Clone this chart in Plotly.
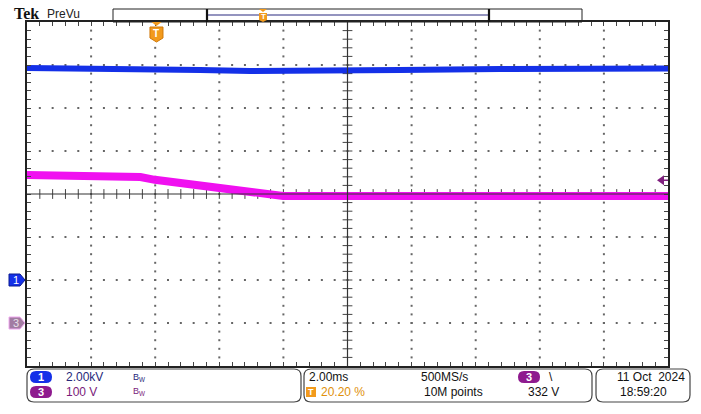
import numpy as np
import plotly.graph_objects as go

OFF = 8  # page body margin of the browser
W, H = 701 - 2 * OFF, 414 - 2 * OFF
L, R, T, B = 27, 668, 22, 366  # graticule box in window pixels

# scope settings
ch1_scale = 2.0      # kV/div
ch1_pos = -2.0       # div
ch3_scale = 100.0    # V/div
ch3_pos = -3.0       # div
time_per_div = 2.0   # ms/div
trig_frac = 0.202
trig_level = 332.0   # V

t_left = -trig_frac * 10 * time_per_div
t_right = t_left + 10 * time_per_div
t_center = t_left + 5 * time_per_div

# ch1 (blue), values
ch1_t = [-4.04, -0.2, 1.36, 2.92, 4.48, 7.6, 10.7, 15.96]
ch1_kv = [9.86, 9.84, 9.77, 9.72, 9.72, 9.77, 9.81, 9.84]

# ch3 (magenta)
ch3_t = [-4.04, -1.05, -0.5, -0.05, 1.98, 2.92, 3.54, 3.95, 15.96]
ch3_v = [344, 344, 339.5, 333, 312, 304.7, 297.7, 295.3, 295.3]

top_row = ["2.00kV", "2.00ms", "500MS/s", "11 Oct  2024"]
bot_row = ["100 V", "20.20 %", "10M points", "332 V", "18:59:20"]


def px(x):
    return (x - L) / (R - L)


def py(y):
    return (B - y) / (B - T)


def path(pts):
    return "M " + " L ".join(f"{px(x)},{py(y)}" for x, y in pts) + " Z"


def rounded(x0, y0, x1, y1, r):
    # rounded rect in pixels -> paper path
    p = lambda x, y: f"{px(x)},{py(y)}"
    return (f"M {p(x0 + r, y0)} L {p(x1 - r, y0)} Q {p(x1, y0)} {p(x1, y0 + r)} "
            f"L {p(x1, y1 - r)} Q {p(x1, y1)} {p(x1 - r, y1)} L {p(x0 + r, y1)} "
            f"Q {p(x0, y1)} {p(x0, y1 - r)} L {p(x0, y0 + r)} Q {p(x0, y0)} {p(x0 + r, y0)} Z")


fig = go.Figure()

# graticule dots
dot_color = "#666666"
gx, gy = [], []
for k in range(1, 10):
    if k == 5:
        continue
    for j in range(1, 40):
        gx.append(t_left + k * time_per_div)
        gy.append(-4 + j * 0.2)
for j in range(-3, 4):
    if j == 0:
        continue
    for k in range(1, 50):
        gx.append(t_left + k * time_per_div / 5)
        gy.append(j)
fig.add_trace(go.Scatter(x=gx, y=gy, mode="markers", hoverinfo="skip",
                         marker=dict(size=2, color=dot_color, symbol="square"),
                         showlegend=False))

# center cross ticks
tick_col = "#444444"
cx = [t_left + k * time_per_div / 5 for k in range(1, 50)]
fig.add_trace(go.Scatter(x=cx, y=[0] * len(cx), mode="markers", hoverinfo="skip",
                         marker=dict(size=7, symbol="line-ns-open", color=tick_col,
                                     line=dict(color=tick_col, width=1)),
                         showlegend=False))
cy = [-4 + j * 0.2 for j in range(1, 40)]
fig.add_trace(go.Scatter(x=[t_center] * len(cy), y=cy, mode="markers", hoverinfo="skip",
                         marker=dict(size=7, symbol="line-ew-open", color=tick_col,
                                     line=dict(color=tick_col, width=1)),
                         showlegend=False))

# waveforms
fig.add_trace(go.Scatter(x=ch3_t, y=[v / ch3_scale + ch3_pos for v in ch3_v],
                         mode="lines", line=dict(color="#f010f0", width=8),
                         showlegend=False))
fig.add_trace(go.Scatter(x=ch1_t, y=[v / ch1_scale + ch1_pos for v in ch1_kv],
                         mode="lines", line=dict(color="#1430e8", width=6),
                         showlegend=False))

shapes = []
# center lines
shapes.append(dict(type="line", xref="paper", yref="y", x0=0, x1=1, y0=0, y1=0,
                   line=dict(color="#333333", width=1.2)))
shapes.append(dict(type="line", xref="x", yref="paper", x0=t_center, x1=t_center,
                   y0=0, y1=1, line=dict(color="#333333", width=1.2)))

# record bar at top
shapes.append(dict(type="rect", xref="paper", yref="paper", x0=px(113), x1=px(582),
                   y0=py(22), y1=py(9), line=dict(color="#222222", width=1)))
shapes.append(dict(type="line", xref="paper", yref="paper", x0=px(208), x1=px(488),
                   y0=py(15), y1=py(15), line=dict(color="#2a2a80", width=1.2)))
shapes.append(dict(type="line", xref="paper", yref="paper", x0=px(207), x1=px(207),
                   y0=py(22), y1=py(9), line=dict(color="#111111", width=2.2)))
shapes.append(dict(type="line", xref="paper", yref="paper", x0=px(489), x1=px(489),
                   y0=py(22), y1=py(9), line=dict(color="#111111", width=2.2)))

orange = "#f29a1c"
# trigger position marker in record bar
shapes.append(dict(type="path", xref="paper", yref="paper", fillcolor=orange,
                   line=dict(color=orange, width=0),
                   path=path([(259, 9), (267, 9), (263, 12)])))
shapes.append(dict(type="path", xref="paper", yref="paper", fillcolor=orange,
                   line=dict(color=orange, width=0),
                   path=path([(259, 13), (267, 13), (267, 20), (263, 22), (259, 20)])))
# trigger position marker on graticule
tx = L + trig_frac * (R - L)
shapes.append(dict(type="path", xref="paper", yref="paper", fillcolor=orange,
                   line=dict(color=orange, width=0),
                   path=path([(tx - 5, 22), (tx + 5, 22), (tx, 26)])))
shapes.append(dict(type="path", xref="paper", yref="paper", fillcolor=orange,
                   line=dict(color="#d07808", width=1),
                   path=path([(tx - 6.5, 27), (tx + 6.5, 27), (tx + 6.5, 38),
                              (tx, 42), (tx - 6.5, 38)])))

# ground markers
y1g = B - (ch1_pos + 4) * (B - T) / 8
y3g = B - (ch3_pos + 4) * (B - T) / 8
shapes.append(dict(type="path", xref="paper", yref="paper", fillcolor="#1430e8",
                   line=dict(color="#0a1a90", width=1),
                   path=path([(9, y1g - 6), (20, y1g - 6), (25, y1g), (20, y1g + 6), (9, y1g + 6)])))
shapes.append(dict(type="path", xref="paper", yref="paper", fillcolor="#a27ca2",
                   line=dict(color="#f0a8f0", width=1),
                   path=path([(9, y3g - 6), (20, y3g - 6), (25, y3g), (20, y3g + 6), (9, y3g + 6)])))

# trigger level arrow
ytl = B - (trig_level / ch3_scale + ch3_pos + 4) * (B - T) / 8
shapes.append(dict(type="path", xref="paper", yref="paper", fillcolor="#80207f",
                   line=dict(color="#80207f", width=0),
                   path=path([(657, ytl), (664, ytl - 5), (664, ytl + 5)])))
shapes.append(dict(type="line", xref="paper", yref="paper", x0=px(662), x1=px(668),
                   y0=py(ytl), y1=py(ytl), line=dict(color="#80207f", width=1.5)))

# status boxes
for x0, x1 in [(27, 301), (304, 592), (596, 690)]:
    shapes.append(dict(type="path", xref="paper", yref="paper",
                       path=rounded(x0, 369, x1, 402, 7),
                       line=dict(color="#444444", width=1.2)))
# channel ovals
for x0, y0, col in [(30, 371, "#1430e8"), (30, 386, "#8e1a8e"), (518, 371, "#8e1a8e")]:
    shapes.append(dict(type="path", xref="paper", yref="paper", fillcolor=col,
                       line=dict(color=col, width=0),
                       path=rounded(x0, y0, x0 + 22, y0 + 12, 6)))
shapes.append(dict(type="rect", xref="paper", yref="paper", x0=px(306), x1=px(316),
                   y0=py(397), y1=py(387), fillcolor=orange, line=dict(width=0)))

font = "Liberation Sans, Arial, sans-serif"
ann = []


def text(s, x, y, color="#111111", size=12, anchor="left", **kw):
    ann.append(dict(text=s, x=px(x), y=py(y), xref="paper", yref="paper",
                    xanchor=anchor, yanchor="middle", showarrow=False,
                    font=dict(family=kw.get("family", font), size=size, color=color)))


text("<b>Tek</b>", 26, 14, "#111111", 16, "center", family="Liberation Serif, serif")
text("PreVu", 45, 14, "#222222", 12)
text("<b>T</b>", tx, 34, "white", 10, "center")
text("<b>T</b>", 263, 17, "white", 8, "center")
text("1", 16, y1g, "white", 11, "center")
text("3", 16, y3g, "#e8e0e8", 11, "center")

row1, row2 = 377, 392
text("<b>1</b>", 41, row1, "white", 11, "center")
text("<b>3</b>", 41, row2, "white", 11, "center")
text(top_row[0], 64, row1, "#28287a", 12)
text(bot_row[0], 64, row2, "#7a1a7a", 12)
text("B<sub>W</sub>", 131, row1, "#28287a", 9)
text("B<sub>W</sub>", 131, row2, "#7a1a7a", 9)
text(top_row[1], 307, row1, "#111111", 12)
text("<b>T</b>", 311, row2, "white", 9, "center")
text(bot_row[1], 319, row2, "#e0900a", 12)
text(top_row[2], 444, row1, "#111111", 12, "center")
text(bot_row[2], 453, row2, "#111111", 12, "center")
text("<b>3</b>", 529, row1, "white", 11, "center")
text("\\", 551, row1, "#111111", 12, "center")
text(bot_row[3], 543, row2, "#111111", 12, "center")
text(top_row[3], 687, row1, "#111111", 12, "right")
text(bot_row[4], 618, row2, "#111111", 12)

fig.update_layout(
    width=W, height=H, autosize=False,
    margin=dict(l=L - OFF, r=W - (R - OFF), t=T - OFF, b=H - (B - OFF), pad=0),
    paper_bgcolor="white", plot_bgcolor="white",
    shapes=shapes, annotations=ann, showlegend=False,
)
fig.update_xaxes(range=[t_left, t_right], showgrid=False, zeroline=False,
                 showticklabels=False, ticks="inside", tick0=t_left,
                 dtick=time_per_div / 5, ticklen=4, tickcolor="#444444",
                 showline=True, linecolor="#222222", linewidth=1.5, mirror="ticks")
fig.update_yaxes(range=[-4, 4], showgrid=False, zeroline=False,
                 showticklabels=False, ticks="inside", tick0=-4, dtick=0.2,
                 ticklen=4, tickcolor="#444444",
                 showline=True, linecolor="#222222", linewidth=1.5, mirror="ticks")

fig.write_html("out.html")
